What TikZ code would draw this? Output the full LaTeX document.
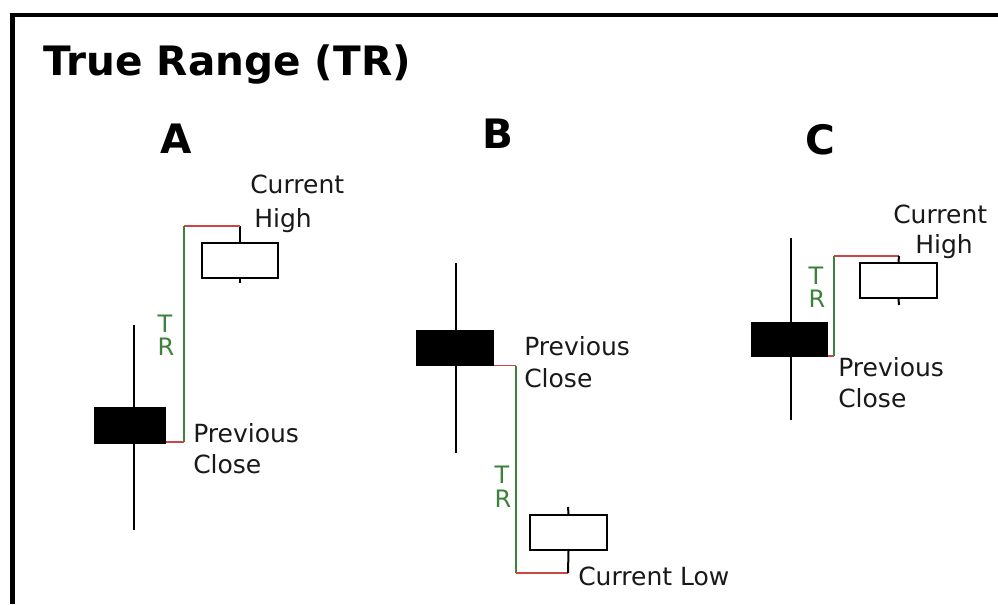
\documentclass[tikz,border=0pt]{standalone}
\usepackage{fontspec}
\setmainfont{DejaVu Sans}
\definecolor{trgreen}{RGB}{60,130,60}
\definecolor{trred}{RGB}{205,70,70}
\def\pxl{0.75pt}
\begin{document}
\begin{tikzpicture}[x=0.75pt,y=-0.75pt,
  prevbody/.style={draw=black,fill=black,line width=1.5pt,inner sep=0pt},
  curbody/.style={draw=black,fill=white,line width=1.5pt,inner sep=0pt},
  wick/.style={draw=black,line width=1.5pt},
  trline/.style={draw=trgreen,line width=1.1pt},
  gapline/.style={draw=trred,line width=1.1pt},
  heading/.style={font=\fontsize{30.4pt}{36pt}\selectfont\bfseries,inner sep=0pt},
  letter/.style={font=\fontsize{30.4pt}{36pt}\selectfont\bfseries,inner sep=0pt,anchor=base},
  lbl/.style={font=\fontsize{18.75pt}{22pt}\selectfont,inner sep=0pt,anchor=base west,text=black!90},
  trtxt/.style={font=\fontsize{18pt}{22pt}\selectfont,inner sep=0pt,anchor=base,text=trgreen}]
\useasboundingbox (0,0) rectangle (998,604);
\fill[white] (0,0) rectangle (998,604);
% frame
\draw[line width=3.75pt] (12,12.7) -- (12,604);
\draw[line width=3pt] (9.5,14.7) -- (998,14.7);
% title and panel letters
\node[heading,anchor=base west] (title) at (43,75) {True Range (TR)};
\node[letter] (la) at (176,153) {A};
\node[letter] (lb) at (498,148) {B};
\node[letter] (lc) at (820,154) {C};

% ---------- Panel A ----------
\draw[wick] (134,325) -- (134,530);
\node[prevbody,minimum width=70*\pxl,minimum height=35*\pxl] (pa) at (130,425.5) {};
\node[curbody,minimum width=76*\pxl,minimum height=35*\pxl] (ca) at (240,260.5) {};
\coordinate (ahigh) at (240,226);
\coordinate (acorner) at (184,226);
\coordinate (aclose) at (184,442);
\coordinate (alow) at (240,283);
\draw[wick] (ca.north) -- (ahigh);
\draw[wick] (ca.south) -- (alow);
\draw[gapline] (acorner) -- (ahigh);
\draw[trline] (acorner) -- (aclose);
\draw[gapline] (pa.east |- aclose) -- (aclose);
\node[trtxt] (at) at (165,332) {T};
\node[trtxt] (ar) at (166,355) {R};
\node[lbl] (acur) at (250,193) {Current};
\node[lbl] (ahi) at (254,227) {High};
\node[lbl] (aprev) at (193,442) {Previous};
\node[lbl] (acl) at (193,473) {Close};

% ---------- Panel B ----------
\draw[wick] (456,263) -- (456,453);
\node[prevbody,minimum width=76*\pxl,minimum height=34*\pxl] (pb) at (455,347.5) {};
\node[curbody,minimum width=77*\pxl,minimum height=35*\pxl] (cb) at (568.5,532.5) {};
\coordinate (bclose) at (516,365.5);
\coordinate (bcorner) at (516,573);
\coordinate (blow) at (568,573);
\coordinate (bhigh) at (568,507);
\draw[gapline] (pb.east |- bclose) -- (bclose);
\draw[trline] (bclose) -- (bcorner);
\draw[gapline] (bcorner) -- (blow);
\draw[wick] (blow) -- (cb.south);
\draw[wick] (cb.north) -- (bhigh);
\node[trtxt] (bt) at (502,483) {T};
\node[trtxt] (br) at (503,507) {R};
\node[lbl] (bprev) at (524,355) {Previous};
\node[lbl] (bcl) at (524,387) {Close};
\node[lbl] (bcur) at (578,585) {Current Low};

% ---------- Panel C ----------
\draw[wick] (791,238) -- (791,420);
\node[prevbody,minimum width=75*\pxl,minimum height=33*\pxl] (pc) at (789.5,339.5) {};
\node[curbody,minimum width=77*\pxl,minimum height=35*\pxl] (cc) at (898.5,280.5) {};
\coordinate (cclose) at (834,356);
\coordinate (ccorner) at (834,256);
\coordinate (chigh) at (899,256);
\coordinate (clow) at (899,305);
\draw[gapline] (pc.east |- cclose) -- (cclose);
\draw[trline] (cclose) -- (ccorner);
\draw[gapline] (ccorner) -- (chigh);
\draw[wick] (chigh) -- (cc.north);
\draw[wick] (cc.south) -- (clow);
\node[trtxt] (ct) at (816,284) {T};
\node[trtxt] (cr) at (817,307) {R};
\node[lbl] (ccur) at (893,223) {Current};
\node[lbl] (chi) at (915,253) {High};
\node[lbl] (cprev) at (838,376) {Previous};
\node[lbl] (ccl) at (838,407) {Close};
\end{tikzpicture}
\end{document}
